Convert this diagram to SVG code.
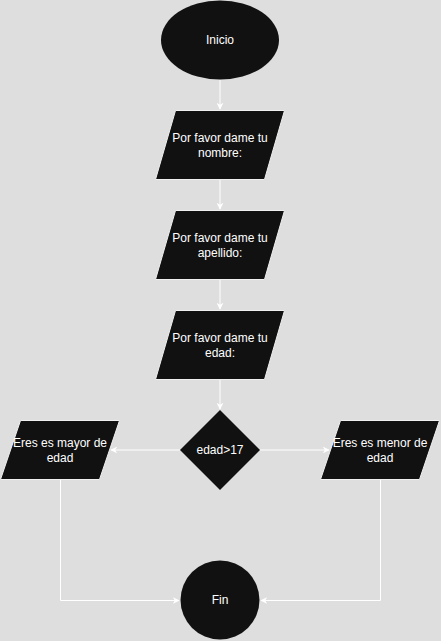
<svg xmlns="http://www.w3.org/2000/svg" width="441" height="641" viewBox="0 0 441 641">
<style>
.bg{fill:#dedede}
.node{fill:#111111}
.pg{fill:#111111;stroke:#f0f0f0;stroke-width:1}
.lbl{font-family:"Liberation Sans",Arial,sans-serif;font-size:12px;fill:#ffffff;text-anchor:middle}
.edge{fill:none;stroke:#ffffff;stroke-width:1}
</style>
<defs>
<marker id="arr" viewBox="0 0 10 10" refX="9" refY="5" markerWidth="7" markerHeight="7" markerUnits="userSpaceOnUse" orient="auto">
<path d="M0,0 L10,5 L0,10 L3,5 Z" fill="#ffffff"/>
</marker>
</defs>
<rect class="bg" x="0" y="0" width="441" height="641"/>
<g id="connectors">
<path class="edge" d="M220,80 L220,109" marker-end="url(#arr)"/>
<path class="edge" d="M220,180 L220,209" marker-end="url(#arr)"/>
<path class="edge" d="M220,280 L220,309" marker-end="url(#arr)"/>
<path class="edge" d="M220,380 L220,409" marker-end="url(#arr)"/>
<path class="edge" d="M180,450 L111,450" marker-end="url(#arr)"/>
<path class="edge" d="M260,450 L329,450" marker-end="url(#arr)"/>
<path class="edge" d="M60.5,480 L60.5,600.5 L179,600.5" marker-end="url(#arr)"/>
<path class="edge" d="M380.5,480 L380.5,600.5 L261,600.5" marker-end="url(#arr)"/>
</g>
<g id="inicio">
<ellipse class="node" cx="220" cy="40" rx="59" ry="39.5"/>
<text class="lbl" x="220" y="44">Inicio</text>
</g>
<g id="nombre">
<polygon class="pg" points="175.5,110.5 284.5,110.5 264.5,179.5 155.5,179.5"/>
<text class="lbl" x="220" y="142">Por favor dame tu</text>
<text class="lbl" x="220" y="157">nombre:</text>
</g>
<g id="apellido">
<polygon class="pg" points="175.5,210.5 284.5,210.5 264.5,279.5 155.5,279.5"/>
<text class="lbl" x="220" y="242">Por favor dame tu</text>
<text class="lbl" x="220" y="257">apellido:</text>
</g>
<g id="edad">
<polygon class="pg" points="175.5,310.5 284.5,310.5 264.5,379.5 155.5,379.5"/>
<text class="lbl" x="220" y="342">Por favor dame tu</text>
<text class="lbl" x="220" y="357">edad:</text>
</g>
<g id="decision">
<polygon class="node" points="220,410 260,450 220,490 180,450"/>
<text class="lbl" x="220" y="454">edad&gt;17</text>
</g>
<g id="mayor">
<polygon class="pg" points="20.5,420.5 119.5,420.5 99.5,479.5 0.5,479.5"/>
<text class="lbl" x="60" y="447">Eres es mayor de</text>
<text class="lbl" x="60" y="462">edad</text>
</g>
<g id="menor">
<polygon class="pg" points="340.5,420.5 439.5,420.5 419.5,479.5 320.5,479.5"/>
<text class="lbl" x="380" y="447">Eres es menor de</text>
<text class="lbl" x="380" y="462">edad</text>
</g>
<g id="fin">
<circle class="node" cx="220" cy="600" r="39.5"/>
<text class="lbl" x="220" y="604">Fin</text>
</g>
</svg>
